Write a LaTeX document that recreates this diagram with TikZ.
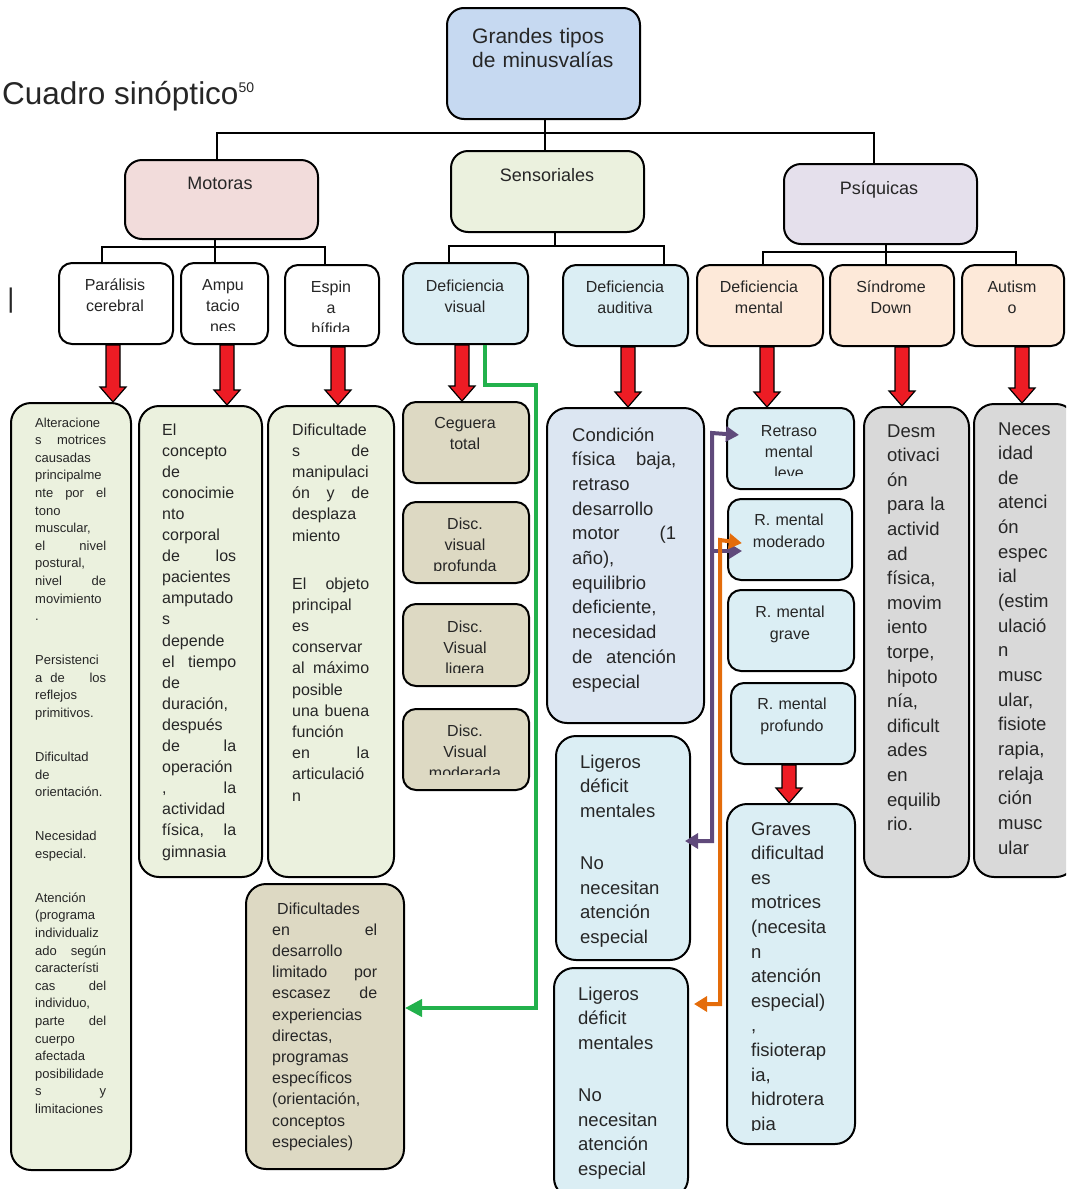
\documentclass[tikz,border=0pt]{standalone}
\usepackage{fontspec}
\setmainfont{Liberation Sans}
\usepackage{tikz}
\usetikzlibrary{calc, arrows.meta}

\definecolor{ink}{HTML}{262626}
\definecolor{topblue}{HTML}{C6D9F1}
\definecolor{motpink}{HTML}{F2DCDB}
\definecolor{sengreen}{HTML}{EBF1DE}
\definecolor{psililac}{HTML}{E5E0EC}
\definecolor{paleblue}{HTML}{DBEEF4}
\definecolor{peach}{HTML}{FDE9D9}
\definecolor{khaki}{HTML}{DDD9C3}
\definecolor{steel}{HTML}{DCE6F2}
\definecolor{ashgray}{HTML}{D9D9D9}
\definecolor{arrowred}{HTML}{ED1C24}
\definecolor{lgreen}{HTML}{22B14C}
\definecolor{lpurple}{HTML}{604A7B}
\definecolor{lorange}{HTML}{E46C0A}

\tikzstyle{box}  = [draw=black, line width=2pt, rounded corners=13pt, anchor=north west, inner sep=0pt]
\tikzstyle{big}  = [rounded corners=17pt]
\tikzstyle{tall} = [rounded corners=20pt]
\tikzstyle{txt}  = [inner sep=0pt, text=ink]
\tikzstyle{hdr}  = [txt, anchor=base, text width=110pt, align=center, font=\fontsize{16}{21}\selectfont]
\tikzstyle{para} = [txt, anchor=base west, align=left]
\tikzstyle{tree} = [line width=2pt]
\tikzstyle{link} = [line width=4pt]
\tikzstyle{fat}  = [draw=black, line width=1.2pt, fill=arrowred, to path={let \p1=(\tikztostart), \p2=(\tikztotarget) in (\x1-7pt,\y1) -- (\x1-7pt,\y2+15pt) -- (\x1-13pt,\y2+15pt) -- (\x1,\y2) -- (\x1+13pt,\y2+15pt) -- (\x1+7pt,\y2+15pt) -- (\x1+7pt,\y1) -- cycle}]

\begin{document}
\begin{tikzpicture}[x=1pt, y=-1pt]
\useasboundingbox (0,0) rectangle (1066,1189);
\clip (0,0) rectangle (1066,1189);

% title
\node (titulo) [txt, anchor=base west, font=\fontsize{31.5}{36}\selectfont] at (2,104) {Cuadro sinóptico\raisebox{12pt}{\fontsize{14}{14}\selectfont 50}};
\node (barra) [txt, anchor=base, font=\fontsize{27}{27}\selectfont] at (11,307) {|};

% top and first level
\node (grandes) [box, big, fill=topblue, minimum width=193pt, minimum height=111pt] at (446,7) {};
\node (grandes-t) [para, text width=160pt, font=\fontsize{21}{24}\selectfont] at (472,43) {Grandes tipos\\de minusvalías};

\node (motoras) [box, big, fill=motpink, minimum width=193pt, minimum height=79pt] at (124,159) {};
\node (motoras-t) [txt, anchor=base, font=\fontsize{18}{22}\selectfont] at (220,189) {Motoras};
\node (sensoriales) [box, big, fill=sengreen, minimum width=193pt, minimum height=81pt] at (450,150) {};
\node (sensoriales-t) [txt, anchor=base, font=\fontsize{18}{22}\selectfont] at (547,181) {Sensoriales};
\node (psiquicas) [box, big, fill=psililac, minimum width=193pt, minimum height=80pt] at (783,163) {};
\node (psiquicas-t) [txt, anchor=base, font=\fontsize{18}{22}\selectfont] at (879,194) {Psíquicas};

% second level
\node (paralisis) [box, fill=white, minimum width=114pt, minimum height=81pt] at (58,262) {};
\node (paralisis-t) [hdr] at (115,290) {Parálisis\\cerebral};
\node (ampu) [box, fill=white, minimum width=87pt, minimum height=81pt] at (180,262) {};
\begin{scope}
  \clip (ampu.north west) rectangle ([yshift=15pt]ampu.south east);
  \node (ampu-t) [hdr] at (223,290) {Ampu\\tacio\\nes};
\end{scope}
\node (espina) [box, fill=white, minimum width=94pt, minimum height=81pt] at (284,264) {};
\begin{scope}
  \clip (espina.north west) rectangle ([yshift=16pt]espina.south east);
  \node (espina-t) [hdr] at (331,292) {Espin\\a\\bífida};
\end{scope}
\node (defvis) [box, fill=paleblue, minimum width=125pt, minimum height=81pt] at (402,262) {};
\node (defvis-t) [hdr] at (465,291) {Deficiencia\\visual};
\node (defaud) [box, fill=paleblue, minimum width=125pt, minimum height=81pt] at (562,264) {};
\node (defaud-t) [hdr] at (625,292) {Deficiencia\\auditiva};
\node (defmen) [box, fill=peach, minimum width=126pt, minimum height=81pt] at (696,264) {};
\node (defmen-t) [hdr] at (759,292) {Deficiencia\\mental};
\node (sindrome) [box, fill=peach, minimum width=124pt, minimum height=81pt] at (829,264) {};
\node (sindrome-t) [hdr] at (891,292) {Síndrome\\Down};
\node (autismo) [box, fill=peach, minimum width=102pt, minimum height=81pt] at (961,264) {};
\node (autismo-t) [hdr] at (1012,292) {Autism\\o};

% motoras column
\node (parbody) [box, tall, fill=sengreen, minimum width=120pt, minimum height=767pt] at (10,402) {};
\node (parbody-t) [para, text width=71pt, font=\fontsize{13}{17.6}\selectfont] at (35,427) {Alteracione\\
s\hfill motrices\\
causadas\\
principalme\\
nte\hfill por\hfill el\\
tono\\
muscular,\\
el\hfill nivel\\
postural,\\
nivel\hfill de\\
movimiento\\
.\\[26.4pt]
Persistenci\\
a\hspace{8pt}de\hfill los\\
reflejos\\
primitivos.\\[26.4pt]
Dificultad\\
de\\
orientación.\\[26.4pt]
Necesidad\\
especial.\\[26.4pt]
Atención\\
(programa\\
individualiz\\
ado\hfill según\\
característi\\
cas\hfill del\\
individuo,\\
parte\hfill del\\
cuerpo\\
afectada\\
posibilidade\\
s\hfill y\\
limitaciones};

\node (ampubody) [box, tall, fill=sengreen, minimum width=123pt, minimum height=471pt] at (138,405) {};
\node (ampubody-t) [para, text width=74pt, font=\fontsize{16}{21.1}\selectfont] at (162,435) {El\\
concepto\\
de\\
conocimie\\
nto\\
corporal\\
de\hfill los\\
pacientes\\
amputado\\
s\\
depende\\
el\hfill tiempo\\
de\\
duración,\\
después\\
de\hfill la\\
operación\\
,\hfill la\\
actividad\\
física,\hfill la\\
gimnasia};

\node (espbody) [box, tall, fill=sengreen, minimum width=126pt, minimum height=471pt] at (267,405) {};
\node (espbody-t) [para, text width=77pt, font=\fontsize{16}{21.2}\selectfont] at (292,435) {Dificultade\\
s\hfill de\\
manipulaci\\
ón\hfill y\hfill de\\
desplaza\\
miento\\[26.8pt]
El\hfill objeto\\
principal\\
es\\
conservar\\
al\hfill máximo\\
posible\\
una\hfill buena\\
función\\
en\hfill la\\
articulació\\
n};

% sensoriales column
\node (ceguera) [box, fill=khaki, minimum width=126pt, minimum height=81pt] at (402,401) {};
\node (ceguera-t) [hdr] at (465,428) {Ceguera\\total};
\node (discprof) [box, fill=khaki, minimum width=126pt, minimum height=81pt] at (402,501) {};
\begin{scope}
  \clip (discprof.north west) rectangle ([yshift=14pt]discprof.south east);
  \node (discprof-t) [hdr] at (465,529) {Disc.\\visual\\profunda};
\end{scope}
\node (disclig) [box, fill=khaki, minimum width=126pt, minimum height=82pt] at (402,603) {};
\begin{scope}
  \clip (disclig.north west) rectangle ([yshift=15pt]disclig.south east);
  \node (disclig-t) [hdr] at (465,632) {Disc.\\Visual\\ligera};
\end{scope}
\node (discmod) [box, fill=khaki, minimum width=126pt, minimum height=81pt] at (402,708) {};
\begin{scope}
  \clip (discmod.north west) rectangle ([yshift=17pt]discmod.south east);
  \node (discmod-t) [hdr] at (465,736) {Disc.\\Visual\\moderada};
\end{scope}
\node (difbody) [box, tall, fill=khaki, minimum width=158pt, minimum height=285pt] at (245,883) {};
\node (difbody-t) [para, text width=105pt, font=\fontsize{16}{21.2}\selectfont] at (272,914) {\hspace*{5pt}Dificultades\\
en\hfill el\\
desarrollo\\
limitado\hfill por\\
escasez\hfill de\\
experiencias\\
directas,\\
programas\\
específicos\\
(orientación,\\
conceptos\\
especiales)};

\node (condicion) [box, tall, fill=steel, minimum width=157pt, minimum height=315pt] at (546,407) {};
\node (condicion-t) [para, text width=104pt, font=\fontsize{18.5}{24.7}\selectfont] at (572,441) {Condición\\
física\hfill baja,\\
retraso\\
desarrollo\\
motor\hfill (1\\
año),\\
equilibrio\\
deficiente,\\
necesidad\\
de\hfill atención\\
especial};
\node (lig1) [box, tall, fill=paleblue, minimum width=134pt, minimum height=224pt] at (555,735) {};
\node (lig1-t) [para, text width=100pt, font=\fontsize{18.5}{24.5}\selectfont] at (580,768) {Ligeros\\déficit\\mentales\\[28pt]No\\necesitan\\atención\\especial};
\node (lig2) [box, tall, fill=paleblue, minimum width=134pt, minimum height=230pt] at (553,967) {};
\node (lig2-t) [para, text width=100pt, font=\fontsize{18.5}{24.5}\selectfont] at (578,1000) {Ligeros\\déficit\\mentales\\[28pt]No\\necesitan\\atención\\especial};

% psiquicas column
\node (retleve) [box, fill=paleblue, minimum width=127pt, minimum height=81pt] at (726,407) {};
\begin{scope}
  \clip (retleve.north west) rectangle ([yshift=15pt]retleve.south east);
  \node (retleve-t) [hdr] at (789,436) {Retraso\\mental\\leve};
\end{scope}
\node (retmod) [box, fill=paleblue, minimum width=124pt, minimum height=81pt] at (727,498) {};
\node (retmod-t) [hdr, font=\fontsize{16}{22}\selectfont] at (789,525) {R. mental\\moderado};
\node (retgrave) [box, fill=paleblue, minimum width=126pt, minimum height=81pt] at (727,589) {};
\node (retgrave-t) [hdr, font=\fontsize{16}{22}\selectfont] at (790,617) {R. mental\\grave};
\node (retprof) [box, fill=paleblue, minimum width=124pt, minimum height=81pt] at (730,682) {};
\node (retprof-t) [hdr, font=\fontsize{16}{22}\selectfont] at (792,709) {R. mental\\profundo};
\node (graves) [box, tall, fill=paleblue, minimum width=128pt, minimum height=340pt] at (726,803) {};
\begin{scope}
  \clip (graves.north west) rectangle ([yshift=15pt]graves.south east);
  \node (graves-t) [para, text width=78pt, font=\fontsize{18.5}{24.6}\selectfont] at (751,835) {Graves\\dificultad\\es\\motrices\\(necesita\\n\\atención\\especial)\\,\\fisioterap\\ia,\\hidrotera\\pia};
\end{scope}
\node (desm) [box, tall, fill=ashgray, minimum width=105pt, minimum height=470pt] at (863,406) {};
\node (desm-t) [para, text width=62pt, font=\fontsize{18.5}{24.6}\selectfont] at (887,437) {Desm\\otivaci\\ón\\para la\\activid\\ad\\física,\\movim\\iento\\torpe,\\hipoto\\nía,\\dificult\\ades\\en\\equilib\\rio.};
\node (neces) [box, tall, fill=ashgray, minimum width=102pt, minimum height=473pt] at (973,403) {};
\node (neces-t) [para, text width=54pt, font=\fontsize{18.5}{24.65}\selectfont] at (998,435) {Neces\\idad\\de\\atenci\\ón\\espec\\ial\\(estim\\ulació\\n\\musc\\ular,\\fisiote\\rapia,\\relaja\\ción\\musc\\ular};

% tree lines
\coordinate (busT) at (545,133);
\coordinate (busM) at (215,247);
\coordinate (busS) at (555,246);
\coordinate (busP) at (886,252);
\draw [tree] (grandes.south -| busT) -- (busT |- sensoriales.north);
\draw [tree] ([xshift=-4.5pt]motoras.north) |- (busT) -| ([xshift=-6.5pt]psiquicas.north);
\draw [tree] (motoras.south -| busM) -- (busM |- ampu.north);
\draw [tree] ([xshift=-14pt]paralisis.north) |- (busM) -| ([xshift=-7pt]espina.north);
\draw [tree] (sensoriales.south -| busS) -- (busS);
\draw [tree] ([xshift=-16.5pt]defvis.north) |- (busS) -| ([xshift=38.5pt]defaud.north);
\draw [tree] (psiquicas.south -| busP) -- (busP |- sindrome.north);
\draw [tree] ([xshift=3pt]defmen.north) |- (busP) -| ([xshift=3pt]autismo.north);

% red arrows
\draw [fat] ([xshift=-3pt]paralisis.south) to (parbody.north);
\draw [fat] ([xshift=2.5pt]ampu.south) to (ampubody.north);
\draw [fat] ([xshift=6pt]espina.south) to (espbody.north);
\draw [fat] ([xshift=-3.5pt]defvis.south) to (ceguera.north);
\draw [fat] ([xshift=2.5pt]defaud.south) to (condicion.north);
\draw [fat] ([xshift=7pt]defmen.south) to (retleve.north);
\draw [fat] ([xshift=10pt]sindrome.south) to (desm.north);
\draw [fat] ([xshift=9pt]autismo.south) to (neces.north);
\draw [fat] ([xshift=-4pt]retprof.south) to (graves.north);

% coloured links
\coordinate (g1) at (536,385);
\coordinate (pv) at (712,433);
\coordinate (ov) at (720,540);
\draw [link, draw=lgreen, -{Triangle[length=17pt,width=17pt]}] ([xshift=19.5pt]defvis.south) |- (g1) |- ([yshift=18.5pt]difbody.east);
\draw [link, draw=lpurple, {Triangle[length=13pt,width=15pt]}-{Triangle[length=13pt,width=15pt]}, shorten <=-6pt, shorten >=-13pt] ([yshift=7pt]lig1.east) -| (pv) -- ([yshift=14.5pt]retleve.west);
\draw [link, draw=lpurple, -{Triangle[length=13pt,width=15pt]}, shorten >=-15pt] ([yshift=-11.5pt]retmod.west -| pv) -- ([yshift=-11.5pt]retmod.west);
\draw [link, draw=lorange, {Triangle[length=13pt,width=15pt]}-{Triangle[length=13pt,width=15pt]}, shorten <=5pt, shorten >=-15pt] ([yshift=79pt]lig2.east) -| (ov) -- ([yshift=-1.5pt]retmod.west);

\end{tikzpicture}
\end{document}
